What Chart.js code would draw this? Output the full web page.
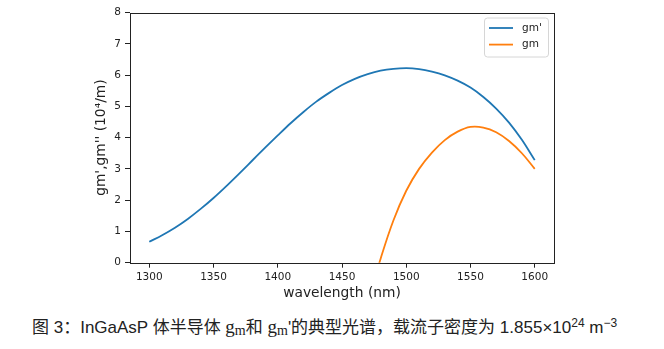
<!DOCTYPE html>
<html>
<head>
<meta charset="utf-8">
<script src="https://cdn.jsdelivr.net/npm/chart.js@4.4.1/dist/chart.umd.min.js"></script>
<style>
  body { margin: 0; background: #fff; }
  #wrap { position: relative; width: 664px; height: 349px; }
  #gainChart { position: absolute; left: 0; top: 0; }
  .caption {
    position: absolute; left: 32px; top: 313px; white-space: nowrap;
    font-family: "Liberation Sans", "Noto Sans CJK SC", sans-serif;
    font-size: 17px; color: #222;
  }
  .caption .g { font-family: "Liberation Serif", "Noto Sans CJK SC", serif; font-size: 19px; }
  .caption sub { font-size: 14px; vertical-align: -2px; }
  .caption sup { font-size: 12px; vertical-align: 6px; }
</style>
</head>
<body>
<div id="wrap">
  <canvas id="gainChart" width="664" height="305"></canvas>
  <div class="caption">图 3：InGaAsP 体半导体 <span class="g">g<sub>m</sub></span>和 <span class="g">g<sub>m</sub></span>'的典型光谱，载流子密度为 1.855×10<sup>24</sup> m<sup>−3</sup></div>
</div>
<script>
// wavelength grid (nm) and gain spectra (10^4 /m)
var wavelength = [1300, 1310, 1320, 1330, 1340, 1350, 1360, 1370, 1380, 1390, 1400,
                  1410, 1420, 1430, 1440, 1450, 1460, 1470, 1480, 1490, 1500,
                  1510, 1520, 1530, 1540, 1550, 1560, 1570, 1580, 1590, 1600]
var gmPrime = [0.67, 0.88, 1.12, 1.40, 1.72, 2.07, 2.45, 2.85, 3.26, 3.67, 4.07,
               4.46, 4.82, 5.15, 5.43, 5.68, 5.88, 6.03, 6.14, 6.20, 6.22,
               6.19, 6.11, 5.99, 5.82, 5.60, 5.30, 4.93, 4.48, 3.93, 3.28]
var gmWavelength = [1475, 1480, 1490, 1500, 1510, 1520, 1530, 1540, 1550, 1560, 1570, 1580, 1590, 1600]
var gm = [-0.62, 0.12, 1.35, 2.30, 3.00, 3.52, 3.92, 4.19, 4.34, 4.32, 4.17, 3.89, 3.50, 3.00]
var xTicks = [1300, 1350, 1400, 1450, 1500, 1550, 1600]
var yTicks = [0, 1, 2, 3, 4, 5, 6, 7, 8]

function toPoints(xs, ys) {
    return xs.map(function (x, i) { return { x: x, y: ys[i] } })
}

// axes box on all four sides
var frameBox = {
    id: 'frameBox',
    afterDatasetsDraw: function (chart) {
        var a = chart.chartArea, ctx = chart.ctx
        ctx.save()
        ctx.strokeStyle = '#222'
        ctx.lineWidth = 1
        ctx.strokeRect(Math.round(a.left) + 0.5, Math.round(a.top) + 0.5,
                       Math.round(a.right - a.left), Math.round(a.bottom - a.top))
        ctx.restore()
    }
}

// legend drawn in the upper right corner of the plot
var cornerLegend = {
    id: 'cornerLegend',
    afterDraw: function (chart) {
        var a = chart.chartArea, ctx = chart.ctx
        var w = 64, h = 39
        var x0 = a.right - 6 - w, y0 = a.top + 5
        ctx.save()
        ctx.fillStyle = 'rgba(255,255,255,0.8)'
        ctx.strokeStyle = '#d6d6d6'
        ctx.lineWidth = 1
        ctx.beginPath()
        ctx.roundRect(x0 + 0.5, y0 + 0.5, w, h, 3)
        ctx.fill()
        ctx.stroke()
        ctx.font = '10.5px "DejaVu Sans"'
        ctx.textBaseline = 'middle'
        chart.data.datasets.forEach(function (ds, i) {
            var y = y0 + 10.5 + i * 16.6
            ctx.strokeStyle = ds.borderColor
            ctx.lineWidth = 1.8
            ctx.beginPath()
            ctx.moveTo(x0 + 5, y)
            ctx.lineTo(x0 + 29, y)
            ctx.stroke()
            ctx.fillStyle = '#222'
            ctx.fillText(ds.label, x0 + 38, y)
        })
        ctx.restore()
    }
}

var ctx = document.getElementById('gainChart').getContext('2d')
new Chart(ctx, {
    type: 'scatter',
    data: {
        datasets: [
            {
                label: "gm'",
                data: toPoints(wavelength, gmPrime),
                showLine: true,
                borderColor: '#1f77b4',
                borderWidth: 1.8,
                pointRadius: 0,
                cubicInterpolationMode: 'monotone'
            },
            {
                label: 'gm',
                data: toPoints(gmWavelength, gm),
                showLine: true,
                borderColor: '#ff7f0e',
                borderWidth: 1.8,
                pointRadius: 0,
                tension: 0.4
            }
        ]
    },
    options: {
        responsive: false,
        animation: false,
        layout: { padding: { left: 93, right: 110, top: 12.5, bottom: 0 } },
        plugins: { legend: { display: false }, tooltip: { enabled: false } },
        scales: {
            x: {
                type: 'linear',
                min: 1285,
                max: 1615,
                afterBuildTicks: function (s) { s.ticks = xTicks.map(function (v) { return { value: v } }) },
                afterFit: function (s) { s.height = 42.3 },
                grid: { drawOnChartArea: false, drawTicks: true, tickLength: 5, color: '#222' },
                border: { display: false },
                ticks: { color: '#222', padding: 3, maxRotation: 0, font: { family: 'DejaVu Sans', size: 10.5 },
                         callback: function (v) { return String(v) } },
                title: { display: true, text: 'wavelength (nm)', color: '#222', padding: { top: 0, bottom: 3 },
                         font: { family: 'DejaVu Sans', size: 13.8 } }
            },
            y: {
                min: 0,
                max: 8,
                afterBuildTicks: function (s) { s.ticks = yTicks.map(function (v) { return { value: v } }) },
                afterFit: function (s) { s.width = 37 },
                grid: { drawOnChartArea: false, drawTicks: true, tickLength: 5, color: '#222' },
                border: { display: false },
                ticks: { color: '#222', padding: 4, font: { family: 'DejaVu Sans', size: 10.5 } },
                title: { display: true, text: "gm',gm'' (10⁴/m)", color: '#222', padding: { top: 0, bottom: 0 },
                         font: { family: 'DejaVu Sans', size: 13.8 } }
            }
        }
    },
    plugins: [frameBox, cornerLegend]
})
</script>
</body>
</html>
